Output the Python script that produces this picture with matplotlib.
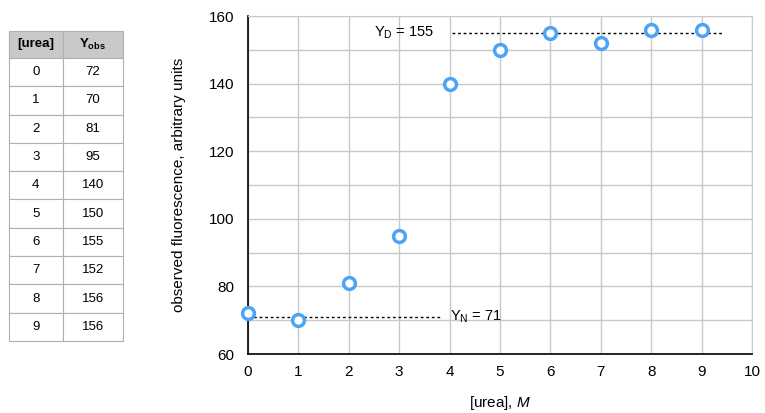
import matplotlib
matplotlib.use("Agg")
import matplotlib.pyplot as plt

plt.rcParams["font.family"] = ["Liberation Sans", "DejaVu Sans"]
plt.rcParams["mathtext.fontset"] = "custom"
plt.rcParams["mathtext.rm"] = "Liberation Sans"
plt.rcParams["mathtext.it"] = "Liberation Sans:italic"
plt.rcParams["mathtext.bf"] = "Liberation Sans:bold"

# ====== data ======
urea = [0, 1, 2, 3, 4, 5, 6, 7, 8, 9]
y_obs = [72, 70, 81, 95, 140, 150, 155, 152, 156, 156]
y_n = 71
y_d = 155
# ==================

BLUE = "#4da3f5"
GRID = "#c8c8c8"

fig = plt.figure(figsize=(7.65, 4.13), dpi=100)

# data table on the left
tax = fig.add_axes([9 / 765, 1 - 341 / 413, 114 / 765, 310 / 413])
tax.axis("off")
cells = [[str(u), str(v)] for u, v in zip(urea, y_obs)]
tbl = tax.table(
    cellText=cells,
    colLabels=["[urea]", r"Y$_\mathbf{obs}$"],
    cellLoc="center",
    colWidths=[0.47, 0.53],
    bbox=[0, 0, 1, 1],
)
tbl.auto_set_font_size(False)
for (r, c), cell in tbl.get_celld().items():
    cell.set_edgecolor("#b0b0b0")
    cell.set_linewidth(0.8)
    cell.get_text().set_fontsize(9.5)
    if r == 0:
        cell.set_facecolor("#c9c9c9")
        cell.get_text().set_fontweight("bold")
        cell.set_height(cell.get_height() * 0.95)

# main plot
ax = fig.add_axes([248 / 765, 59 / 413, 504 / 765, 338 / 413])
ax.set_xlim(0, 10)
ax.set_ylim(60, 160)
ax.set_xticks(range(0, 11))
ax.set_yticks(range(60, 161, 20))
ax.set_yticks(range(60, 161, 10), minor=True)
ax.grid(True, which="both", color=GRID, linewidth=1)
ax.set_axisbelow(True)
for side in ["top", "right"]:
    ax.spines[side].set_color(GRID)
for side in ["left", "bottom"]:
    ax.spines[side].set_color("black")
    ax.spines[side].set_linewidth(1.2)
ax.tick_params(which="both", length=0, labelsize=11, pad=8)
ax.tick_params(axis="y", pad=10)

ax.plot([0, 3.8], [y_n, y_n], ls=(0, (2, 2)), color="black", lw=1)
ax.plot([4.05, 9.4], [y_d, y_d], ls=(0, (2, 2)), color="black", lw=1)
ax.text(4.0, y_n, r"Y$_\mathrm{N}$ = %d" % y_n, fontsize=10.5, va="center", ha="left")
ax.text(2.5, y_d, r"Y$_\mathrm{D}$ = %d" % y_d, fontsize=10.5, va="center", ha="left")

ax.plot(urea, y_obs, "o", ms=8.5, mfc="white", mec=BLUE, mew=2.5, clip_on=False, zorder=5)

ax.set_xlabel(r"[urea], $M$", fontsize=11, labelpad=11)
ax.set_ylabel("observed fluorescence, arbitrary units", fontsize=11, labelpad=16)

fig.savefig("out.png", dpi=100)
